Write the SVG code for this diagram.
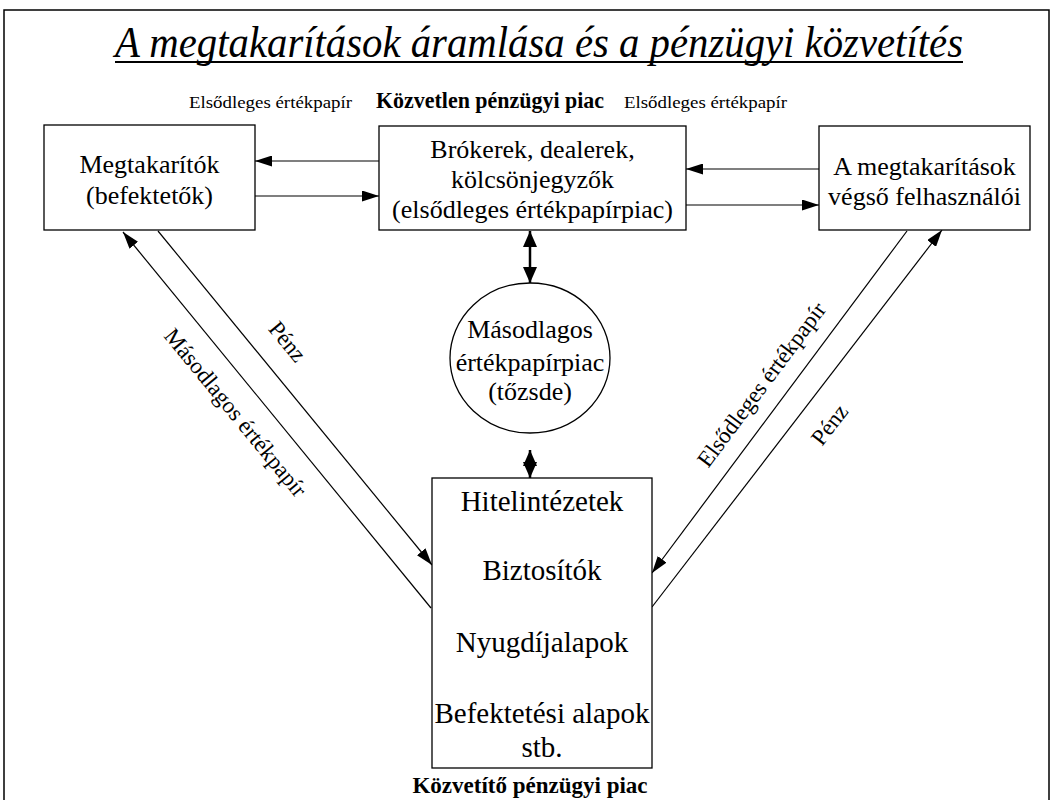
<svg xmlns="http://www.w3.org/2000/svg" width="1053" height="800" viewBox="0 0 1053 800" font-family="'Liberation Serif', serif">
<defs>
<style>
text{font-family:"Liberation Serif","Times New Roman",serif;fill:#000}
.box{fill:#fff;stroke:#000;stroke-width:1.3}
.t26{font-size:26px;text-anchor:middle}
.t29{font-size:29px;text-anchor:middle}
.lbl{font-size:17px}
.bold{font-weight:bold;font-size:23px}
.diag{font-size:23px;text-anchor:middle}
.ln{stroke:#000;stroke-width:1.2;fill:none}
.thick{stroke:#000;stroke-width:2.5;fill:none}
</style>
<marker id="ah" viewBox="0 0 17 11" refX="17" refY="5.5" markerWidth="17" markerHeight="11" markerUnits="userSpaceOnUse" orient="auto-start-reverse">
<path d="M0,0 L17,5.5 L0,11 z" fill="#000"/>
</marker>
<marker id="ahb" viewBox="0 0 16 14" refX="16" refY="7" markerWidth="16" markerHeight="14" markerUnits="userSpaceOnUse" orient="auto-start-reverse">
<path d="M0,0 L16,7 L0,14 z" fill="#000"/>
</marker>
</defs>
<rect width="1053" height="800" fill="#fff"/>
<path d="M4,800 V10 H1049 V800" fill="none" stroke="#000" stroke-width="1.5"/>
<g id="title">
<text x="115" y="57" font-size="44" font-style="italic" textLength="848" lengthAdjust="spacingAndGlyphs">A megtakarítások áramlása és a pénzügyi közvetítés</text>
<line x1="115" y1="62" x2="963" y2="62" stroke="#000" stroke-width="2"/>
</g>
<g id="top-labels">
<text class="lbl" x="352" y="108" text-anchor="end" textLength="163" lengthAdjust="spacingAndGlyphs">Elsődleges értékpapír</text>
<text class="bold" x="376" y="108" textLength="228" lengthAdjust="spacingAndGlyphs">Közvetlen pénzügyi piac</text>
<text class="lbl" x="624" y="108" textLength="163" lengthAdjust="spacingAndGlyphs">Elsődleges értékpapír</text>
</g>
<g id="connectors">
<line class="ln" x1="379" y1="161" x2="255" y2="161" marker-end="url(#ah)"/>
<line class="ln" x1="255" y1="196" x2="379" y2="196" marker-end="url(#ah)"/>
<line class="ln" x1="819" y1="169" x2="686" y2="169" marker-end="url(#ah)"/>
<line class="ln" x1="686" y1="205" x2="819" y2="205" marker-end="url(#ah)"/>
<line class="thick" x1="530" y1="231" x2="530" y2="283" marker-start="url(#ahb)" marker-end="url(#ahb)"/>
<line class="thick" x1="530" y1="450" x2="530" y2="478" marker-start="url(#ahb)" marker-end="url(#ahb)"/>
<line class="ln" x1="431" y1="608" x2="123" y2="232" marker-end="url(#ah)"/>
<line class="ln" x1="158" y1="231" x2="432" y2="565" marker-end="url(#ah)"/>
<line class="ln" x1="907" y1="231" x2="652" y2="573" marker-end="url(#ah)"/>
<line class="ln" x1="652" y1="607" x2="942" y2="230" marker-end="url(#ah)"/>
<text class="diag" transform="translate(287,342) rotate(50.5)" y="7">Pénz</text>
<text class="diag" transform="translate(235,413) rotate(50.7)" y="7">Másodlagos értékpapír</text>
<text class="diag" transform="translate(762,385) rotate(-53.3)" y="7">Elsődleges értékpapír</text>
<text class="diag" transform="translate(830,425) rotate(-52.4)" y="7">Pénz</text>
</g>
<g id="megtakaritok">
<rect class="box" x="44" y="125" width="211" height="105"/>
<text class="t26" x="149.5" y="173">Megtakarítók</text>
<text class="t26" x="149.5" y="204">(befektetők)</text>
</g>
<g id="brokerek">
<rect class="box" x="379" y="126" width="307" height="104"/>
<text class="t26" x="532.5" y="158">Brókerek, dealerek,</text>
<text class="t26" x="532.5" y="188">kölcsönjegyzők</text>
<text class="t26" x="532.5" y="218" font-size="27">(elsődleges értékpapírpiac)</text>
</g>
<g id="felhasznalok">
<rect class="box" x="819" y="126" width="211" height="104"/>
<text class="t26" x="924.5" y="175">A megtakarítások</text>
<text class="t26" x="924.5" y="205">végső felhasználói</text>
</g>
<g id="tozsde">
<ellipse class="box" cx="530" cy="358" rx="80" ry="75"/>
<text class="t26" x="530" y="338">Másodlagos</text>
<text class="t26" x="530" y="371">értékpapírpiac</text>
<text class="t26" x="530" y="400">(tőzsde)</text>
</g>
<g id="kozvetitok">
<rect class="box" x="432" y="478" width="220" height="290"/>
<text class="t29" x="542" y="511">Hitelintézetek</text>
<text class="t29" x="542" y="580">Biztosítók</text>
<text class="t29" x="542" y="652">Nyugdíjalapok</text>
<text class="t29" x="542" y="723">Befektetési alapok</text>
<text class="t29" x="542" y="757">stb.</text>
<text class="bold" x="530" y="793" text-anchor="middle">Közvetítő pénzügyi piac</text>
</g>
</svg>
